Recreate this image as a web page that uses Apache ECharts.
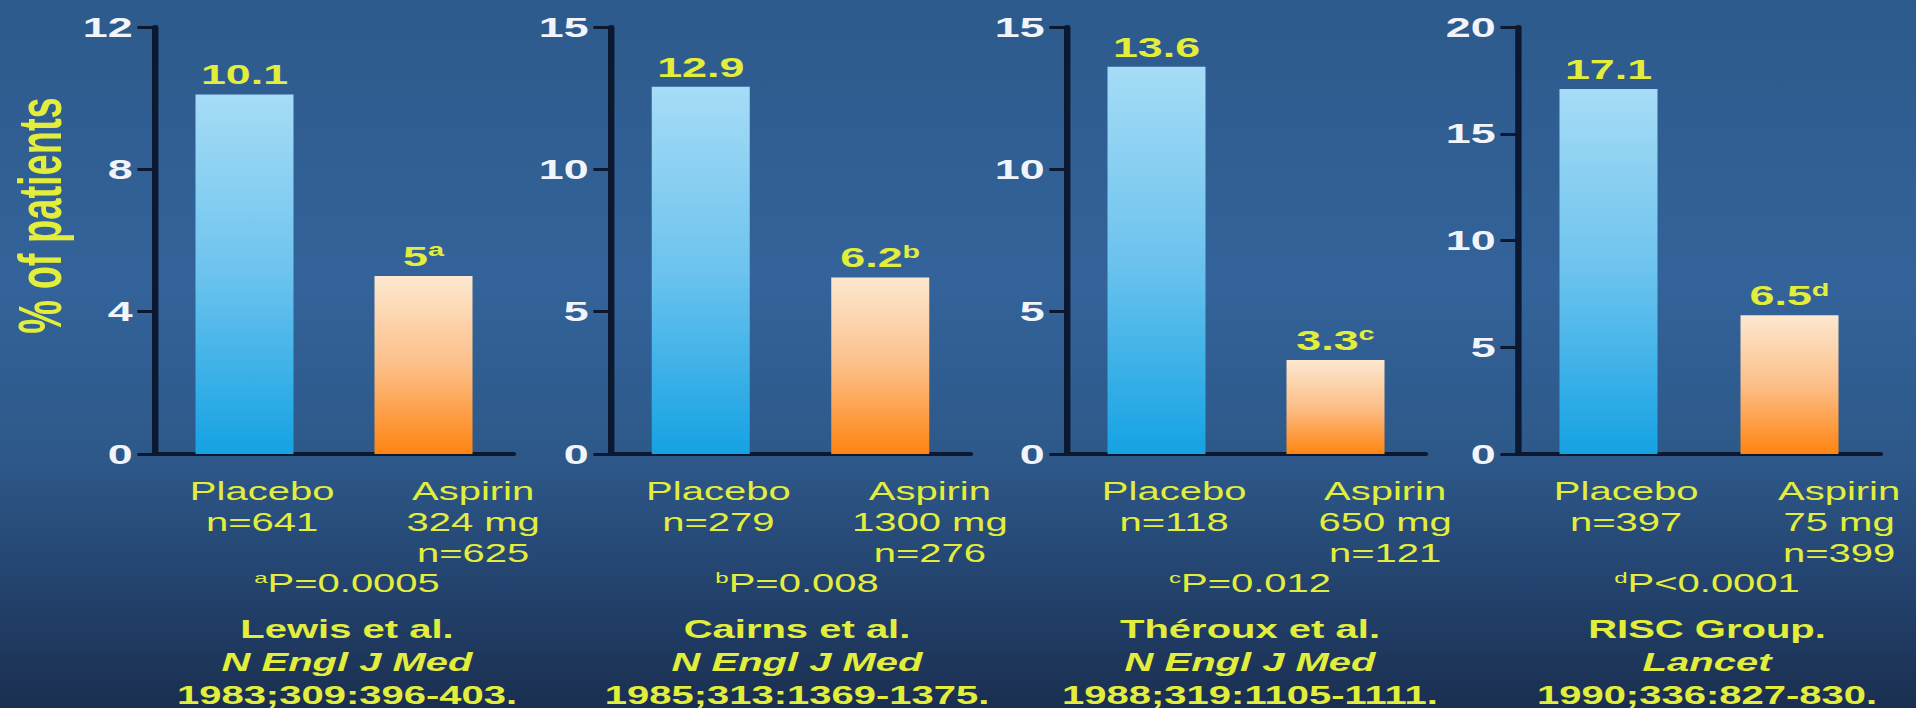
<!DOCTYPE html>
<html>
<head>
<meta charset="utf-8">
<script src="https://cdn.jsdelivr.net/npm/echarts@6/dist/echarts.min.js"></script>
<style>
  html, body { margin: 0; padding: 0; overflow: hidden; }
  body {
    width: 1916px; height: 708px;
    background: linear-gradient(#2d5a8c 0%, #33639a 40%, #2d5889 65%, #22406a 85%, #1a2f50 100%);
  }
  /* the slide is a stretched 4:3 picture, so the chart is drawn narrow and widened */
  #chart { width: 1197.5px; height: 708px; transform: scaleX(1.6); transform-origin: 0 0; }
</style>
</head>
<body>
<div id="chart"></div>
<script>
  // data
  const categories = ['Placebo', 'Aspirin'];
  const yMax = [12, 15, 15, 20];
  const yStep = [4, 5, 5, 5];
  const placebo = [10.1, 12.9, 13.6, 17.1];
  const aspirin = [5, 6.2, 3.3, 6.5];
  const marks = ['a', 'b', 'c', 'd'];
  const placeboN = ['n=641', 'n=279', 'n=118', 'n=397'];
  const aspirinDose = ['324 mg', '1300 mg', '650 mg', '75 mg'];
  const aspirinN = ['n=625', 'n=276', 'n=121', 'n=399'];
  const pValues = ['P=0.0005', 'P=0.008', 'P=0.012', 'P<0.0001'];
  const authors = ['Lewis et al.', 'Cairns et al.', 'Théroux et al.', 'RISC Group.'];
  const journals = ['N Engl J Med', 'N Engl J Med', 'N Engl J Med', 'Lancet'];
  const refs = ['1983;309:396-403.', '1985;313:1369-1375.', '1988;319:1105-1111.', '1990;336:827-830.'];

  // layout, in page pixels
  const S = 1.6;
  const gridLeft = [155, 611, 1067, 1518];
  const gridRight = [513, 970, 1425, 1880];
  const textCenter = [347, 797, 1250, 1707];
  const px = v => v / S;

  const font = '"Liberation Sans", Arial, sans-serif';
  const yellow = '#e3ee3c';
  const axisColor = '#0c1830';

  const blueBar = {
    type: 'linear', x: 0, y: 0, x2: 0, y2: 1,
    colorStops: [{offset: 0, color: '#a6dcf6'}, {offset: 0.5, color: '#6cc3ee'}, {offset: 1, color: '#15a2e3'}]
  };
  const orangeBar = {
    type: 'linear', x: 0, y: 0, x2: 0, y2: 1,
    colorStops: [{offset: 0, color: '#fde8d0'}, {offset: 0.5, color: '#fcbf88'}, {offset: 1, color: '#ff8412'}]
  };

  const grids = [], xAxes = [], yAxes = [], series = [], titles = [];

  for (let k = 0; k < 4; k++) {
    grids.push({
      left: px(gridLeft[k]), width: px(gridRight[k] - gridLeft[k]),
      top: 27, bottom: 254
    });

    xAxes.push({
      gridIndex: k, type: 'category', data: categories,
      axisLine: {show: true, lineStyle: {color: axisColor, width: 4}},
      axisTick: {show: false},
      axisLabel: {
        interval: 0, margin: 22, color: yellow,
        formatter: (v, i) => i === 0
          ? `{pl|${v}}\n{pl|${placeboN[k]}}`
          : `{as|${v}}\n{as|${aspirinDose[k]}}\n{as|${aspirinN[k]}}`,
        rich: {
          pl: {fontSize: 25, lineHeight: 31, fontFamily: font, color: yellow, padding: [0, 0, 0, 22]},
          as: {fontSize: 25, lineHeight: 31, fontFamily: font, color: yellow, padding: [0, 0, 0, 62]}
        }
      }
    });

    yAxes.push({
      gridIndex: k, type: 'value', min: 0, max: yMax[k], interval: yStep[k],
      axisLine: {show: true, lineStyle: {color: axisColor, width: 4}},
      axisTick: {show: true, length: 11, lineStyle: {color: axisColor, width: 3}},
      splitLine: {show: false},
      axisLabel: {color: '#f1f4f8', fontSize: 28, fontWeight: 'bold', fontFamily: font, margin: 14},
      name: k === 0 ? '% of patients' : '',
      nameLocation: 'middle', nameRotate: 90, nameGap: 53,
      nameTextStyle: {color: yellow, fontSize: 38, fontWeight: 'bold', fontFamily: font, padding: [0, 0, 0, 50]}
    });

    series.push({
      type: 'bar', xAxisIndex: k, yAxisIndex: k, barWidth: px(98),
      data: [
        {value: placebo[k], itemStyle: {color: blueBar}},
        {value: aspirin[k], itemStyle: {color: orangeBar}}
      ],
      label: {
        show: true, position: 'top', distance: 5,
        formatter: p => p.dataIndex === 1 ? `{v|${p.value}}{s|${marks[k]}}` : `{v|${p.value}}`,
        rich: {
          v: {fontSize: 28, fontWeight: 'bold', fontFamily: font, color: yellow, lineHeight: 30},
          s: {fontSize: 18, fontWeight: 'bold', fontFamily: font, color: yellow, verticalAlign: 'top', lineHeight: 18}
        }
      }
    });

    titles.push({
      left: px(textCenter[k]), top: 568, textAlign: 'center', padding: 0,
      text: `{s|${marks[k]}}{p|${pValues[k]}}`,
      textStyle: {
        fontWeight: 'normal',
        rich: {
          p: {fontSize: 25, fontWeight: 'normal', fontFamily: font, color: yellow, lineHeight: 30},
          s: {fontSize: 15, fontWeight: 'normal', fontFamily: font, color: yellow, verticalAlign: 'top', lineHeight: 15, padding: [2, 0, 0, 0]}
        }
      }
    });
    titles.push({
      left: px(textCenter[k]), top: 613, textAlign: 'center', padding: 0,
      text: `{b|${authors[k]}}\n{i|${journals[k]}}\n{b|${refs[k]}}`,
      textStyle: {
        rich: {
          b: {fontSize: 25, fontWeight: 'bold', fontFamily: font, color: yellow, lineHeight: 33},
          i: {fontSize: 25, fontWeight: 'bold', fontStyle: 'italic', fontFamily: font, color: yellow, lineHeight: 33}
        }
      }
    });
  }

  const chart = echarts.init(document.getElementById('chart'), null, {renderer: 'svg'});
  chart.setOption({
    backgroundColor: 'transparent',
    animation: false,
    title: titles,
    grid: grids,
    xAxis: xAxes,
    yAxis: yAxes,
    series: series
  });
</script>
</body>
</html>
